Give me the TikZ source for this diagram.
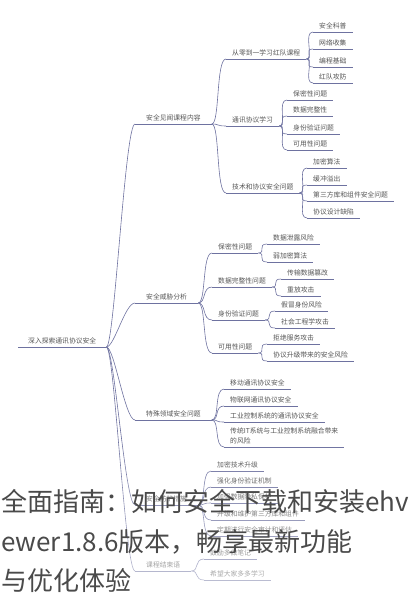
\documentclass[tikz,border=0pt]{standalone}
\usepackage{fontspec}
\setmainfont{Noto Sans CJK SC}
\usepackage{xcolor}
\usetikzlibrary{fadings}
\definecolor{mapline}{HTML}{6E72A0}
\definecolor{maptext}{HTML}{555555}
\definecolor{titlegray}{HTML}{4A4A4A}

\begin{document}
\begin{tikzpicture}[x=1pt, y=-1pt,
    topic/.style={anchor=south west, inner xsep=6pt, inner ysep=3pt, text=maptext,
                  font=\fontsize{6.8}{10}\selectfont},
    branch/.style={topic, inner xsep=11pt},
    link/.style={draw=mapline, line width=0.6pt},
    headline/.style={anchor=base west, inner sep=0pt, text=titlegray,
                  font=\fontsize{26}{30}\selectfont}]
  \useasboundingbox (0,0) rectangle (408,600);
  \clip (0,0) rectangle (408,600);

  % root and first level
  \node[branch, inner xsep=10pt] (root) at (18,347) {深入探索通讯协议安全};
  \node[branch] (a1) at (135,124) {安全见闻课程内容};
  \node[branch] (a2) at (135,303) {安全威胁分析};
  \node[branch] (a3) at (135,420) {特殊领域安全问题};
  \node[branch] (a4) at (135,505) {安全防护措施};
  \node[branch] (a5) at (135,571) {课程结束语};

  % 安全见闻课程内容
  \node[topic] (b1) at (226,59) {从零到一学习红队课程};
  \node[topic] (b2) at (226,126) {通讯协议学习};
  \node[topic] (b3) at (226,193) {技术和协议安全问题};
  \node[topic] (c11) at (313,32) {安全科普};
  \node[topic] (c12) at (313,49) {网络收集};
  \node[topic] (c13) at (313,67) {编程基础};
  \node[topic] (c14) at (313,83) {红队攻防};
  \node[topic] (c21) at (287,100) {保密性问题};
  \node[topic] (c22) at (287,116) {数据完整性};
  \node[topic] (c23) at (287,134) {身份验证问题};
  \node[topic] (c24) at (287,150) {可用性问题};
  \node[topic] (c31) at (307,168) {加密算法};
  \node[topic] (c32) at (307,185) {缓冲溢出};
  \node[topic] (c33) at (307,201) {第三方库和组件安全问题};
  \node[topic] (c34) at (307,218) {协议设计缺陷};

  % 安全威胁分析
  \node[topic] (d1) at (212,253) {保密性问题};
  \node[topic] (d2) at (212,287) {数据完整性问题};
  \node[topic] (d3) at (212,320) {身份验证问题};
  \node[topic] (d4) at (212,353) {可用性问题};
  \node[topic] (e11) at (267,244) {数据泄露风险};
  \node[topic] (e12) at (267,262) {弱加密算法};
  \node[topic] (e21) at (281,279) {传输数据篡改};
  \node[topic] (e22) at (281,296) {重放攻击};
  \node[topic] (e31) at (275,311) {假冒身份风险};
  \node[topic] (e32) at (275,328) {社会工程学攻击};
  \node[topic] (e41) at (267,344) {拒绝服务攻击};
  \node[topic] (e42) at (267,361) {协议升级带来的安全风险};

  % 特殊领域安全问题
  \node[topic] (f1) at (224,389) {移动通讯协议安全};
  \node[topic] (f2) at (224,406) {物联网通讯协议安全};
  \node[topic] (f3) at (224,422) {工业控制系统的通讯协议安全};
  \node[topic, align=left] (f4) at (224,447) {传统IT系统与工业控制系统融合带来\\的风险};

  % 安全防护措施
  \node[topic] (g1) at (211,471) {加密技术升级};
  \node[topic] (g2) at (211,487) {强化身份验证机制};
  \node[topic] (g3) at (211,503) {加强数据隐私保护};
  \node[topic] (g4) at (211,520) {升级和维护第三方库和组件};
  \node[topic] (g5) at (211,536) {定期进行安全审计和评估};

  % 课程结束语
  \node[topic] (h1) at (204,559) {鼓励多做笔记};
  \node[topic] (h2) at (204,580) {希望大家多多学习};

  % underlines
  \foreach \n in {root,a1,a2,a3,a4,a5,b1,b2,b3,c11,c12,c13,c14,c21,c22,c23,c24,
                  c31,c32,c33,c34,d1,d2,d3,d4,e11,e12,e21,e22,e31,e32,e41,e42,
                  f1,f2,f3,f4,g1,g2,g3,g4,g5,h1,h2}
    \draw[link] (\n.south west) -- (\n.south east);

  % connectors
  \foreach \p/\c in {root/a1,root/a2,root/a3,root/a4,root/a5,
                     a1/b1,a1/b2,a1/b3,b1/c11,b1/c12,b1/c13,b1/c14,
                     b2/c21,b2/c22,b2/c23,b2/c24,b3/c31,b3/c32,b3/c33,b3/c34,
                     a2/d1,a2/d2,a2/d3,a2/d4,d1/e11,d1/e12,d2/e21,d2/e22,
                     d3/e31,d3/e32,d4/e41,d4/e42,
                     a3/f1,a3/f2,a3/f3,a3/f4,
                     a4/g1,a4/g2,a4/g3,a4/g4,a4/g5,a5/h1,a5/h2}
    \draw[link] (\p.south east) .. controls +(8,0) and +(-10,0) .. (\c.south west);

  % fade towards the bottom
  \fill[white, fill opacity=0.6, path fading=north] (0,440) rectangle (408,600);

  % headline over the map
  \node[headline] (t1) at (1,511) {全面指南：如何安全下载和安装ehv};
  \node[headline] (t2) at (1,551) {ewer1.8.6版本，畅享最新功能};
  \node[headline] (t3) at (1,590) {与优化体验};
\end{tikzpicture}
\end{document}
